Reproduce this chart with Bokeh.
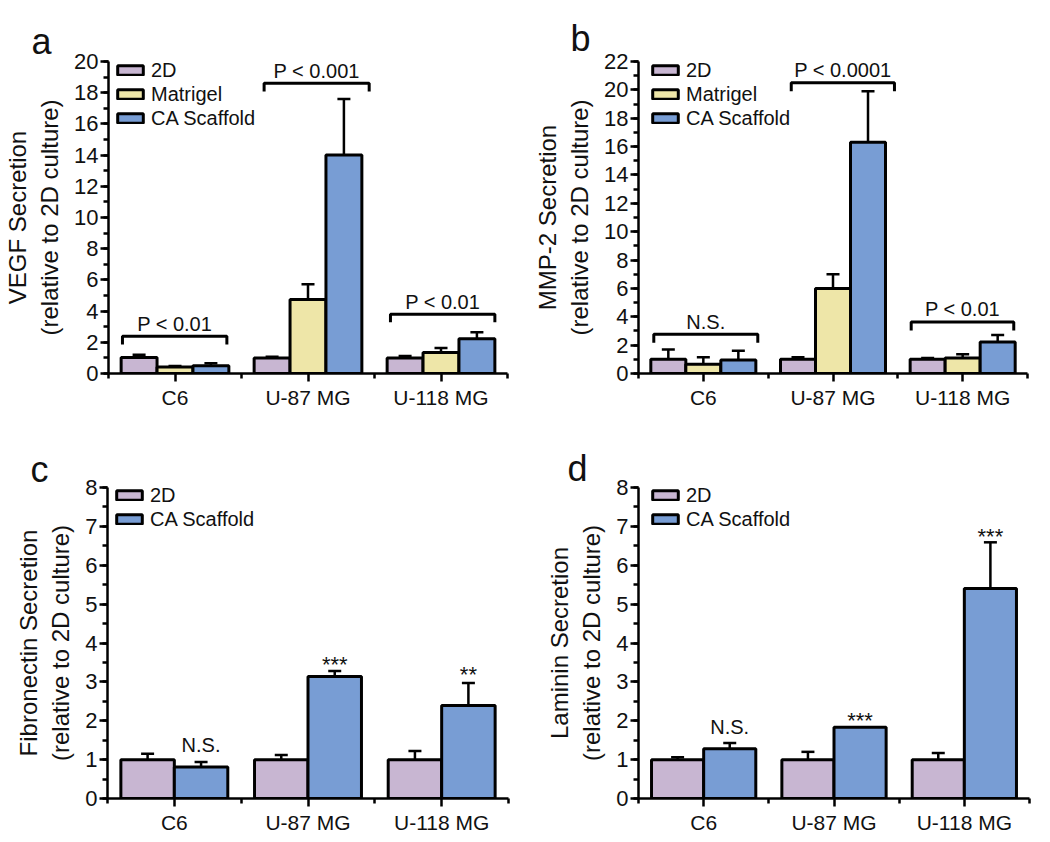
from bokeh.plotting import figure
from bokeh.models import (ColumnDataSource, Whisker, TeeHead, FixedTicker,
                          SingleIntervalTicker, Range1d, Legend)
from bokeh.layouts import column, row
from bokeh.core.properties import value
from bokeh.embed import file_html
from bokeh.resources import INLINE

FONT = "Liberation Sans"
INK = "#111111"

categories = ["C6", "U-87 MG", "U-118 MG"]
colors = {"2D": "#C8B6D2", "Matrigel": "#EEE6A8", "CA Scaffold": "#789DD4"}

# Panel a: VEGF
vegf_2d = [1.02, 1.00, 1.00]
vegf_2d_err = [0.18, 0.08, 0.12]
vegf_mat = [0.42, 4.75, 1.35]
vegf_mat_err = [0.06, 0.97, 0.28]
vegf_ca = [0.50, 14.0, 2.22]
vegf_ca_err = [0.15, 3.60, 0.42]
vegf_br_left = [0.105, 1.17, 2.12]
vegf_br_right = [0.89, 1.96, 2.905]
vegf_br_y = [2.38, 18.6, 3.8]
vegf_br_drop = 0.52
vegf_br_text = ["P < 0.01", "P < 0.001", "P < 0.01"]

# Panel b: MMP-2
mmp_2d = [1.00, 1.00, 1.00]
mmp_2d_err = [0.70, 0.15, 0.10]
mmp_mat = [0.65, 6.00, 1.10]
mmp_mat_err = [0.50, 1.00, 0.25]
mmp_ca = [0.95, 16.3, 2.22]
mmp_ca_err = [0.65, 3.60, 0.50]
mmp_br_left = [0.118, 1.178, 2.103]
mmp_br_right = [0.92, 1.974, 2.894]
mmp_br_y = [2.77, 20.5, 3.64]
mmp_br_drop = 0.6
mmp_br_text = ["N.S.", "P < 0.0001", "P < 0.01"]

# Panel c: Fibronectin
fn_2d = [1.00, 1.00, 1.00]
fn_2d_err = [0.15, 0.12, 0.22]
fn_ca = [0.81, 3.14, 2.39]
fn_ca_err = [0.13, 0.14, 0.58]
fn_sig = ["N.S.", "***", "**"]
fn_sig_y = [1.37, 3.44, 3.19]

# Panel d: Laminin
lam_2d = [1.00, 1.00, 1.00]
lam_2d_err = [0.06, 0.20, 0.17]
lam_ca = [1.28, 1.83, 5.40]
lam_ca_err = [0.15, 0.0, 1.19]
lam_sig = ["N.S.", "***", "***"]
lam_sig_y = [1.83, 2.01, 6.74]

ITEM_H = 24  # legend row height for 20px text


def make_panel(letter, letter_offset, letter_standoff, ylabel, ymax, yint, series,
               width, height, borders, bar_w, legend_dx, legend_dy):
    left, right, top, bottom = borders
    frame_h = height - top - bottom
    p = figure(width=width, height=height, x_range=Range1d(0, 3), y_range=Range1d(0, ymax),
               output_backend="svg", toolbar_location=None, tools="",
               min_border_left=left, min_border_right=right,
               min_border_top=top, min_border_bottom=bottom)
    p.outline_line_color = None
    p.grid.visible = False

    p.title.text = letter
    p.title.text_font = FONT
    p.title.text_font_size = "36px"
    p.title.text_font_style = "normal"
    p.title.text_color = INK
    p.title.align = "left"
    p.title.offset = letter_offset
    p.title.standoff = letter_standoff

    n = len(series)
    items = []
    whisk = []
    xs_by_name = {}
    for i, (name, vals, errs) in enumerate(series):
        off = (i - (n - 1) / 2) * bar_w
        xs = [k + 0.5 + off for k in range(len(categories))]
        xs_by_name[name] = xs
        src = ColumnDataSource(dict(x=xs, top=vals))
        r = p.vbar(x="x", top="top", bottom=0, width=bar_w, source=src,
                   fill_color=colors[name], line_color="black", line_width=3)
        items.append((name, [r]))
        wx = [x for x, e in zip(xs, errs) if e > 0]
        wu = [v + e for v, e in zip(vals, errs) if e > 0]
        wl = [v - e for v, e in zip(vals, errs) if e > 0]
        whisk.append(ColumnDataSource(dict(x=wx, upper=wu, lower=wl)))
    for ws in whisk:
        w = Whisker(source=ws, base="x", upper="upper", lower="lower",
                    line_width=2.5, line_color="black",
                    upper_head=TeeHead(size=13, line_width=2.5, line_color="black"),
                    lower_head=TeeHead(size=13, line_width=2.5, line_color="black"))
        p.add_layout(w)

    # axes
    p.xaxis.ticker = FixedTicker(ticks=[k + 0.5 for k in range(len(categories))],
                                 minor_ticks=list(range(len(categories) + 1)))
    p.xaxis.major_label_overrides = {k + 0.5: c for k, c in enumerate(categories)}
    p.yaxis.ticker = SingleIntervalTicker(interval=yint, num_minor_ticks=2)
    for ax in (p.xaxis[0], p.yaxis[0]):
        ax.axis_line_width = 2.5
        ax.axis_line_color = "black"
        ax.major_tick_line_width = 2.5
        ax.minor_tick_line_width = 2.5
        ax.major_tick_line_color = "black"
        ax.minor_tick_line_color = "black"
        ax.major_tick_out = 8
        ax.major_tick_in = 0
        ax.minor_tick_out = 5
        ax.minor_tick_in = 0
        ax.major_label_text_font = FONT
        ax.major_label_text_color = INK
    p.xaxis.major_label_text_font_size = "21px"
    p.xaxis.major_label_standoff = 4
    p.yaxis.major_label_text_font_size = "22px"
    p.yaxis.major_label_standoff = 2
    p.yaxis.axis_label = ylabel
    p.yaxis.axis_label_text_font = FONT
    p.yaxis.axis_label_text_font_size = "24px"
    p.yaxis.axis_label_text_font_style = "normal"
    p.yaxis.axis_label_text_color = INK
    p.yaxis.axis_label_standoff = 8

    leg_h = n * ITEM_H
    legend = Legend(items=items, location=(legend_dx, frame_h + ITEM_H / 2 - legend_dy - leg_h),
                    spacing=0, padding=0, margin=0,
                    glyph_width=32, glyph_height=12, label_height=ITEM_H,
                    label_standoff=5, label_text_font=FONT, label_text_font_size="20px",
                    label_text_color=INK, border_line_color=None,
                    background_fill_alpha=0)
    p.add_layout(legend)
    return p, xs_by_name, frame_h


def add_brackets(p, frame_h, ymax, lefts, rights, ys, drop, texts):
    px = ymax / frame_h
    xs = [[l, l, r, r] for l, r in zip(lefts, rights)]
    yy = [[y - drop, y, y, y - drop] for y in ys]
    p.multi_line(xs=xs, ys=yy, line_color="black", line_width=3)
    src = ColumnDataSource(dict(x=[(l + r) / 2 for l, r in zip(lefts, rights)],
                                y=[y + 12.5 * px for y in ys], t=texts))
    p.text(x="x", y="y", text="t", source=src, text_align="center",
           text_baseline="middle", text_font=value(FONT),
           text_font_size="20px", text_color=INK)


def add_sig(p, xs, ys, texts):
    sizes = ["22px" if "*" in t else "20px" for t in texts]
    src = ColumnDataSource(dict(x=xs, y=ys, t=texts, s=sizes))
    p.text(x="x", y="y", text="t", source=src, text_align="center",
           text_baseline="middle", text_font=value(FONT),
           text_font_size="s", text_color=INK)


pa, xa, fha = make_panel("a", -77, 0, "VEGF Secretion\n(relative to 2D culture)", 20, 2,
                         [("2D", vegf_2d, vegf_2d_err), ("Matrigel", vegf_mat, vegf_mat_err),
                          ("CA Scaffold", vegf_ca, vegf_ca_err)],
                         520, 420, (107, 13, 61, 47), 0.27, 6, 9)
add_brackets(pa, fha, 20, vegf_br_left, vegf_br_right, vegf_br_y, vegf_br_drop, vegf_br_text)

pb, xb, fhb = make_panel("b", -68, 6, "MMP-2 Secretion\n(relative to 2D culture)", 22, 2,
                         [("2D", mmp_2d, mmp_2d_err), ("Matrigel", mmp_mat, mmp_mat_err),
                          ("CA Scaffold", mmp_ca, mmp_ca_err)],
                         530, 420, (118, 23, 61, 47), 0.27, 11, 9)
add_brackets(pb, fhb, 22, mmp_br_left, mmp_br_right, mmp_br_y, mmp_br_drop, mmp_br_text)

pc, xc, fhc = make_panel("c", -77, -4, "Fibronectin Secretion\n(relative to 2D culture)", 8, 1,
                         [("2D", fn_2d, fn_2d_err), ("CA Scaffold", fn_ca, fn_ca_err)],
                         520, 421, (107, 12, 66, 43), 0.4, 6, 9)
add_sig(pc, xc["CA Scaffold"], fn_sig_y, fn_sig)

pd_, xd, fhd = make_panel("d", -71, -3, "Laminin Secretion\n(relative to 2D culture)", 8, 1,
                          [("2D", lam_2d, lam_2d_err), ("CA Scaffold", lam_ca, lam_ca_err)],
                          530, 421, (118, 21, 67, 42), 0.4, 11, 9)
add_sig(pd_, xd["CA Scaffold"], lam_sig_y, lam_sig)

layout = column(row(pa, pb), row(pc, pd_))
open("out.html", "w").write(file_html(layout, INLINE))
